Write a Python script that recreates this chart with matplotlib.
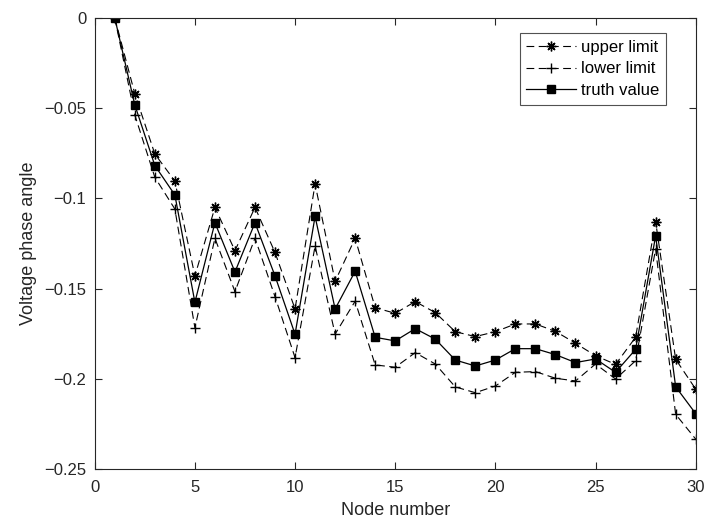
import matplotlib.pyplot as plt

plt.rcParams['font.family'] = ['Liberation Sans', 'DejaVu Sans']

nodes = list(range(1, 31))
upper = [0, -0.042, -0.0754, -0.0904, -0.143, -0.105, -0.129, -0.105, -0.130, -0.1613,
         -0.092, -0.146, -0.1221, -0.1606, -0.1637, -0.1572, -0.1633, -0.1739, -0.1766, -0.1739,
         -0.1696, -0.1696, -0.1737, -0.1803, -0.1872, -0.192, -0.177, -0.1129, -0.1892, -0.2057]
lower = [0, -0.0538, -0.0883, -0.1059, -0.1717, -0.1221, -0.1517, -0.122, -0.1545, -0.1883,
         -0.1264, -0.1752, -0.157, -0.1923, -0.1936, -0.1855, -0.1918, -0.2045, -0.2077, -0.204,
         -0.1964, -0.196, -0.1997, -0.2012, -0.1918, -0.2001, -0.190, -0.128, -0.2197, -0.2334]
truth = [0, -0.0482, -0.0818, -0.0981, -0.1576, -0.1135, -0.1408, -0.1135, -0.143, -0.1753,
         -0.110, -0.1613, -0.1404, -0.177, -0.179, -0.1722, -0.178, -0.1896, -0.1929, -0.1896,
         -0.1833, -0.1833, -0.1866, -0.191, -0.189, -0.1964, -0.1837, -0.1208, -0.2044, -0.2193]

fig = plt.figure(figsize=(7.07, 5.27), dpi=100)
ax = fig.add_axes([0.134, 0.110, 0.850, 0.856])

ax.plot(nodes, upper, color='black', lw=0.8, dashes=(7, 4), marker=(8, 2, 0),
        markersize=7, markeredgewidth=1.0, label='upper limit')
ax.plot(nodes, lower, color='black', lw=0.8, dashes=(7, 4), marker='+',
        markersize=7.5, markeredgewidth=1.0, label='lower limit')
ax.plot(nodes, truth, color='black', lw=0.9, marker='s', markersize=5.5,
        label='truth value')

ax.set_xlim(0, 30)
ax.set_ylim(-0.25, 0)
ax.set_xticks([0, 5, 10, 15, 20, 25, 30])
ax.set_yticks([-0.25, -0.2, -0.15, -0.1, -0.05, 0])
ax.set_yticklabels(['\u22120.25', '\u22120.2', '\u22120.15', '\u22120.1', '\u22120.05', '0'])
ax.tick_params(direction='in', top=True, right=True, labelsize=12, length=5,
               width=0.8, colors='#262626')
ax.tick_params(axis='x', pad=8)
ax.tick_params(axis='y', pad=6)
for s in ax.spines.values():
    s.set_linewidth(0.8)
    s.set_color('#262626')

ax.set_xlabel('Node number', fontsize=13, color='#262626', labelpad=5)
ax.set_ylabel('Voltage phase angle', fontsize=13, color='#262626', labelpad=5)

leg = ax.legend(loc='upper right', bbox_to_anchor=(0.965, 0.985), fontsize=12,
                fancybox=False, edgecolor='#262626', handlelength=3.0,
                handletextpad=0.3, borderpad=0.4, labelspacing=0.4)
leg.get_frame().set_linewidth(0.8)

fig.savefig('out.png', dpi=100)
